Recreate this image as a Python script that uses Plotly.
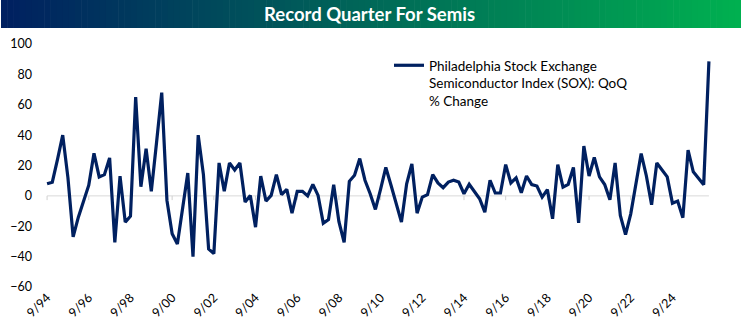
import plotly.graph_objects as go

# Data: SOX QoQ % change, quarterly starting 9/94
values = [
    8, 9, 24, 40, 12, -27, -14, -3, 7, 28,
    12.5, 14, 25, -30.6, 13, -17.3, -13.4, 65, 6, 31,
    3, 35, 68, -3, -25, -31.7, -8, 15, -40, 40,
    14, -35, -38, 21.7, 3, 21.7, 17, 21.7, -4, 0.3,
    -20.6, 13, -3.4, 0.3, 14, 0.8, 4.3, -11.4, 3, 3,
    0, 7.6, 0.3, -18, -15.6, 7.4, -17, -30.6, 9.6, 13.6,
    24.6, 10.3, 1.4, -8.9, 4.5, 18.7, 7, -4.6, -17.3, 8,
    21, -11.4, -0.8, 0.8, 14, 8.5, 5.4, 9.1, 10.3, 9.1,
    1.4, 7.6, 3, -1.9, -10.7, 10.3, 1.9, 1.9, 20.6, 8.5,
    11.8, 2.1, 13.1, 7.4, 6.5, -0.8, 4.1, -15.1, 20.6, 5.8,
    7.6, 18.7, -17.8, 32.8, 13.1, 25.3, 12.5, 7.5, -2.5, 21.7,
    -12.9, -25.5, -11.8, 8.1, 27.9, 13.1, -5.8, 21.7, 17.3, 12.5,
    -4.8, -3.4, -14.4, 30.1, 15.8, 11.8, 7.4, 88.6,
]
tick_labels = ["9/94", "9/96", "9/98", "9/00", "9/02", "9/04", "9/06", "9/08",
               "9/10", "9/12", "9/14", "9/16", "9/18", "9/20", "9/22", "9/24"]
tick_pos = [i * 8 for i in range(len(tick_labels))]
y_ticks = [-60, -40, -20, 0, 20, 40, 60, 80, 100]

series_name = "Philadelphia Stock Exchange<br>Semiconductor Index (SOX): QoQ<br>% Change"
title_text = "Record Quarter For Semis"

W, H = 741, 326
ML, MR, MT, MB = 45, 30, 44, 39
PW = W - ML - MR
PH = H - MT - MB

def px_to_paper_x(px):
    return (px - ML) / PW

def py_to_paper_y(py):
    return (H - MB - py) / PH

x = list(range(len(values)))
n = len(values)

fig = go.Figure()
fig.add_trace(go.Scatter(
    x=x, y=values, mode="lines", name=series_name,
    line=dict(color="#002060", width=3.2),
))

shapes = []
# zero line (category axis)
shapes.append(dict(type="line", xref="x", yref="y", x0=0, x1=n - 1, y0=0, y1=0,
                   line=dict(color="#d9d9d9", width=1), layer="below"))
for tp in tick_pos:
    shapes.append(dict(type="line", xref="x", yref="y", x0=tp, x1=tp, y0=0, y1=-2.8,
                       line=dict(color="#d0d0d0", width=1), layer="below"))

# gradient title bar
c0 = (0, 32, 96)
c1 = (0, 176, 80)
strips = 120
bar_top, bar_bot = 0, 28
for k in range(strips):
    t = k / (strips - 1)
    r = round(c0[0] + (c1[0] - c0[0]) * t)
    g = round(c0[1] + (c1[1] - c0[1]) * t)
    b = round(c0[2] + (c1[2] - c0[2]) * t)
    x0 = 1 + (W - 1) * k / strips
    x1 = 1 + (W - 1) * (k + 1) / strips + 0.6
    shapes.append(dict(type="rect", xref="paper", yref="paper",
                       x0=px_to_paper_x(x0), x1=px_to_paper_x(x1),
                       y0=py_to_paper_y(bar_bot), y1=py_to_paper_y(bar_top),
                       fillcolor=f"rgb({r},{g},{b})", line=dict(width=0), layer="above"))

fig.update_layout(
    width=W, height=H,
    margin=dict(l=ML, r=MR, t=MT, b=MB, pad=0, autoexpand=False),
    paper_bgcolor="white", plot_bgcolor="white",
    font=dict(family="Lato, Open Sans, sans-serif", size=12, color="#000000"),
    shapes=shapes,
    showlegend=True,
    legend=dict(
        xref="paper", yref="paper",
        x=px_to_paper_x(389), y=py_to_paper_y(50), xanchor="left", yanchor="top",
        bgcolor="rgba(0,0,0,0)", borderwidth=0,
        font=dict(family="Lato, Open Sans, sans-serif", size=13.5, color="#000000"),
        valign="top", tracegroupgap=0,
    ),
    annotations=[dict(
        text=f"<b>{title_text}</b>", xref="paper", yref="paper",
        x=px_to_paper_x(369), y=py_to_paper_y(14), xanchor="center", yanchor="middle",
        showarrow=False, font=dict(family="Lato, sans-serif", size=18.5, color="white"),
    )],
)
fig.update_xaxes(
    range=[-0.4, n - 1 + 0.4], tickmode="array", tickvals=tick_pos, ticktext=tick_labels,
    tickangle=-45, showgrid=False, zeroline=False, showline=False, ticks="",
    tickfont=dict(size=12.5),
)
fig.update_yaxes(
    range=[-60, 100], tickmode="array", tickvals=y_ticks,
    showgrid=False, zeroline=False, showline=False, ticks="",
    ticklabelstandoff=12, tickfont=dict(size=12.5),
)

fig.write_html("out.html")
